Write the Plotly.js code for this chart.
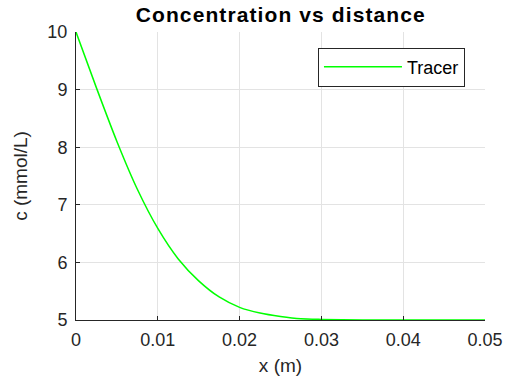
<!DOCTYPE html>
<html>
<head>
<meta charset="utf-8">
<script src="https://cdn.plot.ly/plotly-3.0.1.min.js"></script>
<style>html,body{margin:0;padding:0;background:#fff;}#chart{width:505px;height:383px;}
.gtitle{letter-spacing:1.1px;}</style>
</head>
<body>
<div id="chart"></div>
<script>
// Data
const xPos = [0, 0.0025, 0.005, 0.0075, 0.01, 0.0125, 0.015, 0.0175, 0.02, 0.0225, 0.025, 0.0275, 0.03, 0.035, 0.04, 0.045, 0.05];
const tracer = [10, 9.03, 8.10, 7.27, 6.59, 6.06, 5.68, 5.40, 5.22, 5.12, 5.06, 5.02, 5.01, 5.00, 5.00, 5.00, 5.00];
const xTickVals = [0, 0.01, 0.02, 0.03, 0.04, 0.05];
const xTickText = ["0", "0.01", "0.02", "0.03", "0.04", "0.05"];
const yTickVals = [5, 6, 7, 8, 9, 10];
const seriesName = "Tracer";

const font = "Liberation Sans, Arial, Helvetica, sans-serif";
const axisCommon = {
  showline: true, linecolor: '#262626', linewidth: 1,
  ticks: 'inside', ticklen: 4, tickcolor: '#262626', tickwidth: 1,
  showgrid: true, gridcolor: '#e3e3e3', gridwidth: 1,
  zeroline: false, mirror: false,
  tickfont: {family: font, size: 18, color: '#262626'}
};

Plotly.newPlot('chart', [{
  x: xPos, y: tracer, type: 'scatter', mode: 'lines', name: seriesName,
  line: {color: '#00ff00', width: 1.5, shape: 'spline', smoothing: 0.6}
}], {
  width: 505, height: 383,
  margin: {l: 76, r: 20, t: 32, b: 63},
  paper_bgcolor: '#fff', plot_bgcolor: '#fff',
  title: {text: '<b>Concentration vs distance</b>', font: {family: font, size: 21, color: '#000'},
          x: 0.556, xanchor: 'center', y: 0.962, yanchor: 'middle'},
  xaxis: Object.assign({}, axisCommon, {
    range: [0, 0.05], tickvals: xTickVals, ticktext: xTickText, ticklabelstandoff: 3,
    title: {text: 'x (m)', font: {family: font, size: 19, color: '#262626'}, standoff: 10}
  }),
  yaxis: Object.assign({}, axisCommon, {
    range: [5, 10], tickvals: yTickVals, ticklabelstandoff: 4,
    title: {text: 'c (mmol/L)', font: {family: font, size: 19, color: '#262626'}, standoff: 14}
  }),
  showlegend: true,
  legend: {x: 0.951, xanchor: 'right', y: 0.946, yanchor: 'top',
           bgcolor: '#fff', bordercolor: '#262626', borderwidth: 1,
           font: {family: font, size: 18, color: '#000'}, itemwidth: 78}
}, {displayModeBar: false, staticPlot: true});
</script>
</body>
</html>
